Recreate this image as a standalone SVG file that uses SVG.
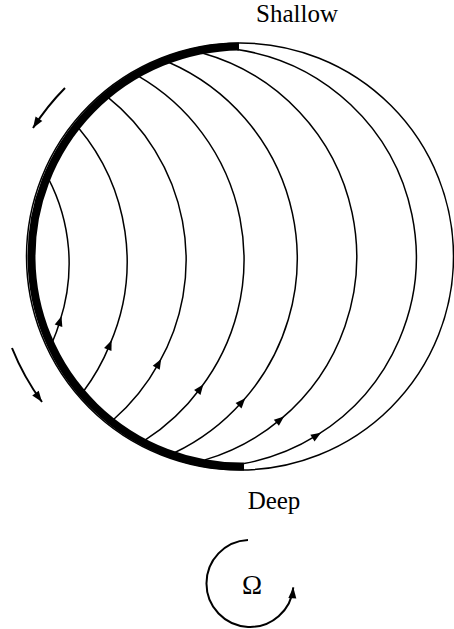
<svg xmlns="http://www.w3.org/2000/svg" width="454" height="629" viewBox="0 0 454 629">
<style>
.thin{fill:none;stroke:#000;stroke-width:1.5}
.thick{fill:none;stroke:#000;stroke-width:8}
.flow{fill:none;stroke:#000;stroke-width:1.5;marker-mid:url(#mid)}
.dir{fill:none;stroke:#000;stroke-width:2;marker-end:url(#tip)}
.lbl{font-family:"Liberation Serif","Times New Roman",serif;font-size:25px;fill:#000;text-anchor:middle}
</style>
<defs>
<marker id="mid" markerUnits="userSpaceOnUse" markerWidth="12" markerHeight="10" refX="5" refY="0" viewBox="0 -5 12 10" orient="auto" overflow="visible">
<path d="M0,-4 L10,0 L0,4 z" fill="#000"/>
</marker>
<marker id="tip" markerUnits="userSpaceOnUse" markerWidth="14" markerHeight="10" refX="11" refY="0" viewBox="0 -5 14 10" orient="auto" overflow="visible">
<path d="M0,-4 L11,0 L0,4 z" fill="#000"/>
</marker>
</defs>
<g id="basin">
<circle class="thin" cx="240" cy="256.5" r="213.5"/>
<path class="thick" d="M239,46.5 A210,210 0 1 0 244,466.5"/>
</g>
<g id="connectors">
<path class="flow" d="M244,463.5 A209.7,209.7 0 0 0 316.7,435.4 A209.7,209.7 0 0 0 237.1,49.5"/>
<path class="flow" d="M204.9,459.9 A211.6,211.6 0 0 0 280.2,419.6 A211.6,211.6 0 0 0 202.2,53"/>
<path class="flow" d="M174.4,452.8 A214,214 0 0 0 241.9,402 A214,214 0 0 0 168.6,62.2"/>
<path class="flow" d="M145,440.2 A212.1,212.1 0 0 0 200.3,388.5 A212.1,212.1 0 0 0 138.4,76.1"/>
<path class="flow" d="M113,420 A208.3,208.3 0 0 0 158.7,363.4 A208.3,208.3 0 0 0 107.7,97.2"/>
<path class="flow" d="M83.2,391.7 A208.3,208.3 0 0 0 109.7,344.9 A208.3,208.3 0 0 0 78.2,127.4"/>
<path class="flow" d="M52,343 A185,185 0 0 0 60,321 A185,185 0 0 0 48.3,178.3"/>
<path class="dir" d="M65,88 A243.5,243.5 0 0 0 33,128"/>
<path class="dir" d="M12,348 A245.7,245.7 0 0 0 42,402"/>
</g>
<g id="labels">
<text id="shallow" class="lbl" x="297" y="22">Shallow</text>
<text id="deep" class="lbl" x="274" y="509">Deep</text>
</g>
<g id="rotation">
<path class="dir" d="M248,540 A43.5,43.5 0 1 0 293.3,587.3"/>
<text class="lbl" x="252" y="594" style="font-size:27px">Ω</text>
</g>
</svg>
